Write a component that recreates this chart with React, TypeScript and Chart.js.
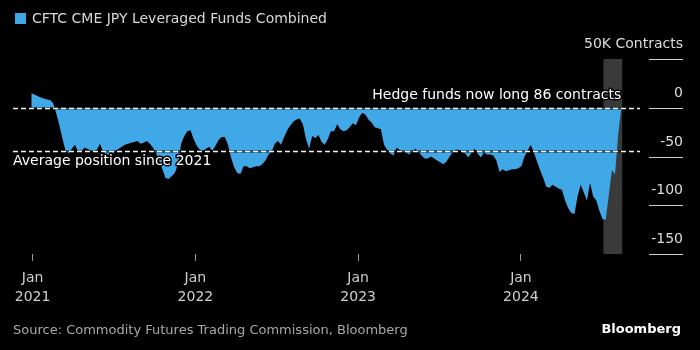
import React, { useEffect, useRef } from 'react';
import { Chart, registerables } from 'chart.js';

Chart.register(...registerables);

// Weekly CFTC reports, first one on START_DATE, one every 7 days
const START_DATE = '2020-12-29';
// Net position, thousands of contracts
const values = [
  15, 13.5, 12, 10.5, 9.5, 8.5, 8, 5, -6, -18,
  -32, -44, -47, -42, -38, -45, -45, -41, -42, -44,
  -45, -43, -37, -45, -48, -48, -48, -44, -42, -40,
  -38, -37, -36, -35, -34, -37, -36, -34, -37, -41,
  -47, -54, -63, -72, -73, -70, -67, -58, -37, -29,
  -24, -23, -32, -39, -43, -44, -42, -40, -44, -39,
  -33, -30, -30, -38, -51, -61, -67, -68, -60, -60,
  -62, -61, -60, -60, -58, -54, -48, -45, -37, -34,
  -38, -30, -23, -18, -14, -12, -11, -17, -32, -42,
  -29, -31, -28, -35, -38, -32, -24, -24, -17, -22,
  -24, -23, -20, -16, -18, -10, -5, -7, -12, -15,
  -20, -21, -22, -38, -43, -47, -49, -41, -43, -45,
  -46, -48, -45, -42, -45, -49, -52, -52, -50, -52,
  -54, -56, -58, -55, -50, -46, -43, -43, -45, -47,
  -51, -46, -42, -47, -51, -46, -48, -48, -49, -54,
  -66, -63, -65, -64, -63, -63, -62, -60, -50, -44,
  -38, -46, -55, -64, -72, -81, -82, -79, -81, -83,
  -84, -95, -103, -108, -109, -91, -79, -87, -95, -77,
  -91, -95, -106, -114, -115, -90, -64, -68, -28, 0.086,
];

const yearTicks = [2021, 2022, 2023, 2024];
const yTickValues = [50, 0, -50, -100, -150];
const yTickLabels = ['50K Contracts', '0', '-50', '-100', '-150'];
const AVERAGE = -44;
const LATEST = 0.086;
const SHADE_START = '2024-07-04';
const SHADE_END = '2024-08-15';
const X_MIN = '2020-11-18';
const X_MAX = '2024-09-24';

const LEGEND_LABEL = 'CFTC CME JPY Leveraged Funds Combined';
const LATEST_LABEL = 'Hedge funds now long 86 contracts';
const AVERAGE_LABEL = 'Average position since 2021';
const SOURCE = 'Source: Commodity Futures Trading Commission, Bloomberg';
const BRAND = 'Bloomberg';

const FONT = '"DejaVu Sans", sans-serif';
const BLUE = '#40a8e6';
const DAY = 86400000;
const ts = (s: string) => Date.parse(s + 'T00:00:00Z');

const points = values.map((v, i) => ({ x: ts(START_DATE) + i * 7 * DAY, y: v }));

const overlay = {
  id: 'overlay',
  beforeDatasetsDraw(chart: any) {
    const { ctx, scales } = chart;
    const x = scales.x, y = scales.y;
    const x0 = x.getPixelForValue(ts(SHADE_START));
    const x1 = x.getPixelForValue(ts(SHADE_END));
    const y0 = y.getPixelForValue(50);
    const y1 = y.getPixelForValue(-150);
    ctx.save();
    ctx.fillStyle = '#3a3a3a';
    ctx.fillRect(x0, y0, x1 - x0, y1 - y0);
    ctx.restore();
  },
  afterDatasetsDraw(chart: any) {
    const { ctx, chartArea, scales } = chart;
    const y = scales.y;
    ctx.save();
    // dashed reference lines
    [LATEST, AVERAGE].forEach((v) => {
      const py = Math.round(y.getPixelForValue(v)) + 0.5;
      ctx.setLineDash([]);
      ctx.strokeStyle = 'rgba(0,0,0,0.45)';
      ctx.lineWidth = 3;
      ctx.beginPath();
      ctx.moveTo(chartArea.left, py);
      ctx.lineTo(chartArea.right, py);
      ctx.stroke();
      ctx.setLineDash([5, 3]);
      ctx.strokeStyle = '#f2f2f2';
      ctx.lineWidth = 1.5;
      ctx.beginPath();
      ctx.moveTo(chartArea.left, py);
      ctx.lineTo(chartArea.right, py);
      ctx.stroke();
    });
    ctx.setLineDash([]);
    // annotation texts with halo
    const halo = (text: string, tx: number, ty: number, align: CanvasTextAlign) => {
      ctx.font = `14px ${FONT}`;
      ctx.textAlign = align;
      ctx.textBaseline = 'middle';
      ctx.lineJoin = 'round';
      ctx.strokeStyle = '#000';
      ctx.lineWidth = 3;
      ctx.strokeText(text, tx, ty);
      ctx.fillStyle = '#ffffff';
      ctx.fillText(text, tx, ty);
    };
    const endX = scales.x.getPixelForValue(points[points.length - 1].x);
    halo(LATEST_LABEL, endX, y.getPixelForValue(LATEST) - 12, 'right');
    halo(AVERAGE_LABEL, chartArea.left, y.getPixelForValue(AVERAGE) + 11, 'left');

    // right-hand value axis (Bloomberg style: label above a short rule)
    const rx0 = chartArea.right + 9;
    const rx1 = 683;
    yTickValues.forEach((v, i) => {
      const py = Math.round(y.getPixelForValue(v)) + 0.5;
      ctx.strokeStyle = '#cfcfcf';
      ctx.lineWidth = 1;
      ctx.beginPath();
      ctx.moveTo(rx0, py);
      ctx.lineTo(rx1, py);
      ctx.stroke();
      ctx.font = `14px ${FONT}`;
      ctx.fillStyle = '#dcdcdc';
      ctx.textAlign = 'right';
      ctx.textBaseline = 'middle';
      ctx.fillText(yTickLabels[i], rx1, py - 15);
    });

    // legend
    ctx.fillStyle = BLUE;
    ctx.fillRect(15, 13, 11, 11);
    ctx.font = `14px ${FONT}`;
    ctx.fillStyle = '#d8d8d8';
    ctx.textAlign = 'left';
    ctx.textBaseline = 'middle';
    ctx.fillText(LEGEND_LABEL, 32, 19.5);

    // footer
    ctx.font = `13px ${FONT}`;
    ctx.fillStyle = '#a8a8a8';
    ctx.fillText(SOURCE, 13, 331);
    ctx.font = `bold 13px ${FONT}`;
    ctx.fillStyle = '#ffffff';
    ctx.textAlign = 'right';
    ctx.fillText(BRAND, 681, 330);
    ctx.restore();
  },
};

export default function App() {
  const ref = useRef<HTMLCanvasElement | null>(null);
  useEffect(() => {
    if (!ref.current) return;
    const chart = new Chart(ref.current, {
      type: 'line',
      data: {
        datasets: [
          {
            label: LEGEND_LABEL,
            data: points,
            fill: 'origin',
            backgroundColor: BLUE,
            borderColor: BLUE,
            borderWidth: 0,
            pointRadius: 0,
            tension: 0,
          },
        ],
      },
      options: {
        animation: false,
        responsive: false,
        maintainAspectRatio: false,
        layout: { padding: { top: 59, left: 13, right: 60, bottom: 0 } },
        plugins: { legend: { display: false }, tooltip: { enabled: false } },
        scales: {
          x: {
            type: 'linear',
            min: ts(X_MIN),
            max: ts(X_MAX),
            afterBuildTicks: (s: any) => {
              s.ticks = yearTicks.map((yr) => ({ value: Date.UTC(yr, 0, 1) }));
            },
            afterFit: (s: any) => {
              s.height = 96;
            },
            border: { display: false },
            grid: { drawOnChartArea: false, drawTicks: true, tickLength: 7, color: '#9a9a9a', lineWidth: 1 },
            ticks: {
              autoSkip: false,
              maxRotation: 0,
              color: '#cfcfcf',
              padding: 8,
              font: { family: FONT, size: 14, lineHeight: 1.35 },
              callback: (v: any) => ['Jan', String(new Date(v).getUTCFullYear())],
            },
          },
          y: { display: false, min: -150, max: 50 },
        },
      },
      plugins: [overlay],
    });
    return () => chart.destroy();
  }, []);
  return (
    <div style={{ position: 'fixed', left: 0, top: 0, width: 700, height: 350, background: '#000' }}>
      <canvas ref={ref} width={700} height={350} />
    </div>
  );
}
